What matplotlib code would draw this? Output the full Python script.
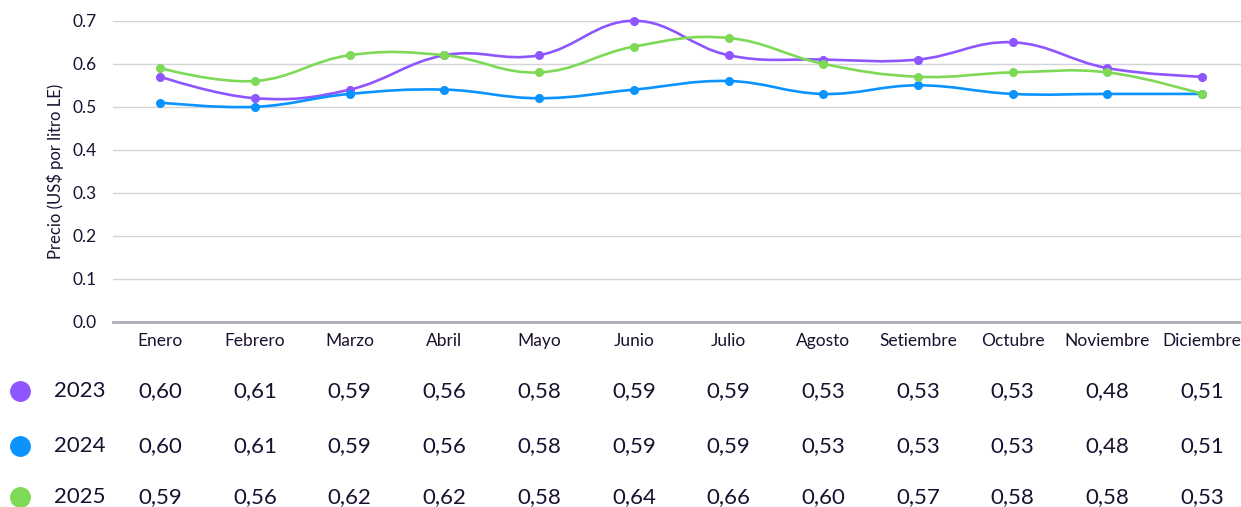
import numpy as np
import matplotlib
matplotlib.use("Agg")
import matplotlib.pyplot as plt
from matplotlib.path import Path
from matplotlib.patches import PathPatch
from matplotlib.transforms import blended_transform_factory

plt.rcParams["font.family"] = ["Lato", "DejaVu Sans"]

meses = ["Enero", "Febrero", "Marzo", "Abril", "Mayo", "Junio", "Julio",
         "Agosto", "Setiembre", "Octubre", "Noviembre", "Diciembre"]
anios = ["2023", "2024", "2025"]

# valores de las curvas
v2023 = [0.57, 0.52, 0.54, 0.62, 0.62, 0.70, 0.62, 0.61, 0.61, 0.65, 0.59, 0.57]
v2024 = [0.51, 0.50, 0.53, 0.54, 0.52, 0.54, 0.56, 0.53, 0.55, 0.53, 0.53, 0.53]
v2025 = [0.59, 0.56, 0.62, 0.62, 0.58, 0.64, 0.66, 0.60, 0.57, 0.58, 0.58, 0.53]

# valores de la tabla (tal como aparecen)
t2023 = ["0,60", "0,61", "0,59", "0,56", "0,58", "0,59", "0,59", "0,53", "0,53", "0,53", "0,48", "0,51"]
t2024 = ["0,60", "0,61", "0,59", "0,56", "0,58", "0,59", "0,59", "0,53", "0,53", "0,53", "0,48", "0,51"]
t2025 = ["0,59", "0,56", "0,62", "0,62", "0,58", "0,64", "0,66", "0,60", "0,57", "0,58", "0,58", "0,53"]

colores = ["#8f55ff", "#0a93ff", "#7ed957"]
TXT = "#1b1030"


def spline_path(x, y, k=0.2):
    # curva tipo "spline" suave que pasa por cada punto
    x = np.asarray(x, float); y = np.asarray(y, float)
    n = len(x)
    verts = [(x[0], y[0])]; codes = [Path.MOVETO]
    for i in range(n - 1):
        p0 = i - 1 if i > 0 else i
        p3 = i + 2 if i + 2 < n else i + 1
        c1 = (x[i] + k * (x[i + 1] - x[p0]), y[i] + k * (y[i + 1] - y[p0]))
        c2 = (x[i + 1] - k * (x[p3] - x[i]), y[i + 1] - k * (y[p3] - y[i]))
        if i == 0:
            c1 = (x[i], y[i])
        if i == n - 2:
            c2 = (x[i + 1], y[i + 1])
        verts += [c1, c2, (x[i + 1], y[i + 1])]
        codes += [Path.CURVE4] * 3
    return Path(verts, codes)


fig = plt.figure(figsize=(12.41, 5.07), dpi=100)
ax = fig.add_axes([0.091, 0.365, 0.909, 0.594])

x = np.arange(len(meses))
for vals, c in zip([v2023, v2024, v2025], colores):
    ax.add_patch(PathPatch(spline_path(x, vals), fill=False, edgecolor=c, lw=1.9,
                           capstyle="round", zorder=3, clip_on=False))
    ax.plot(x, vals, "o", color=c, ms=5.5, zorder=4, clip_on=False)

ax.set_xlim(-0.5, 11.41)
ax.set_ylim(0, 0.7)
ax.set_yticks(np.arange(0, 0.71, 0.1))
ax.set_yticklabels([f"{t:.1f}" for t in np.arange(0, 0.71, 0.1)])
ax.set_xticks(x)
ax.set_xticklabels(meses)
ax.tick_params(axis="both", length=0, labelsize=12.5, colors=TXT)
ax.tick_params(axis="x", pad=8)
ax.tick_params(axis="y", pad=12)
ax.grid(axis="y", color="#d3d3da", lw=1)
ax.set_axisbelow(True)
for s in ["top", "right", "left"]:
    ax.spines[s].set_visible(False)
ax.spines["bottom"].set_color("#aeadb8")
ax.spines["bottom"].set_linewidth(2)
ax.set_ylabel("Precio (US$ por litro LE)", fontsize=12, color=TXT, labelpad=6)

# tabla inferior
tr = blended_transform_factory(ax.transData, fig.transFigure)
filas_y = [1 - 391 / 507, 1 - 446 / 507, 1 - 497 / 507]
for anio, tabla, c, yy in zip(anios, [t2023, t2024, t2025], colores, filas_y):
    fig.add_artist(plt.Line2D([20 / 1241], [yy], marker="o", ms=14, color=c,
                              transform=fig.transFigure))
    fig.text(80 / 1241, yy, anio, ha="center", va="center", fontsize=16, color=TXT)
    for i, t in enumerate(tabla):
        fig.text(i, yy, t, ha="center", va="center", fontsize=16, color=TXT,
                 transform=tr)

fig.savefig("out.png", dpi=100)
